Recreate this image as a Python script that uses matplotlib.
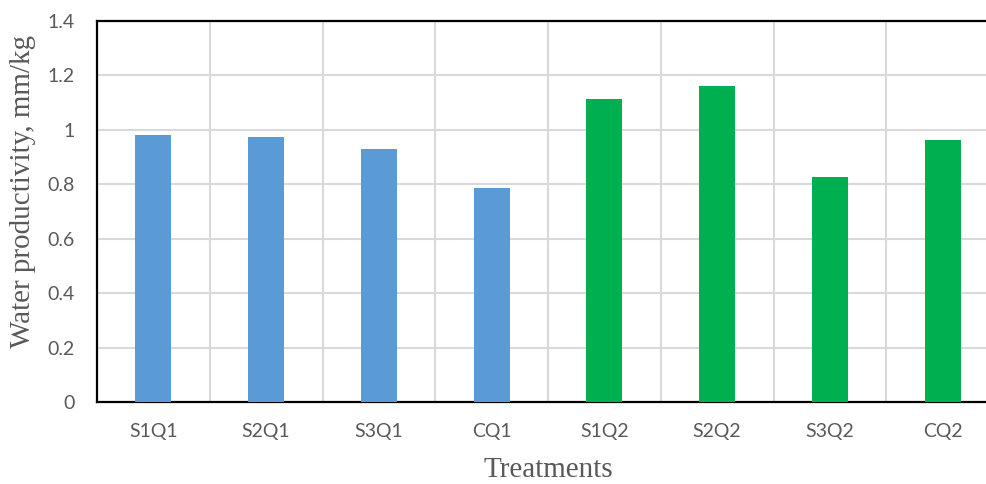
import matplotlib
matplotlib.use("Agg")
import matplotlib.pyplot as plt
import numpy as np

# Water productivity per treatment
treatments = ["S1Q1", "S2Q1", "S3Q1", "CQ1", "S1Q2", "S2Q2", "S3Q2", "CQ2"]
productivity = [0.98, 0.973, 0.93, 0.785, 1.113, 1.161, 0.827, 0.963]
bar_colors = ["#5B9BD5"] * 4 + ["#00B050"] * 4
y_ticks = [0, 0.2, 0.4, 0.6, 0.8, 1, 1.2, 1.4]
y_tick_labels = ["0", "0.2", "0.4", "0.6", "0.8", "1", "1.2", "1.4"]

W, H = 987, 484
fig = plt.figure(figsize=(W / 100, H / 100), dpi=100)
left, right, top, bottom = 97, 999, 21, 402
ax = fig.add_axes([left / W, 1 - bottom / H, (right - left) / W, (bottom - top) / H])

x = np.arange(len(treatments))
ax.bar(x, productivity, width=0.32, color=bar_colors, zorder=3)

ax.set_xlim(-0.5, len(treatments) - 0.5)
ax.set_ylim(0, 1.4)

tick_font = {"family": "Lato", "size": 14, "color": "#595959"}
ax.set_yticks(y_ticks)
ax.set_yticklabels(y_tick_labels, **tick_font)
ax.set_xticks(x)
ax.set_xticklabels(treatments, **tick_font)
ax.tick_params(axis="y", length=0, pad=16)
ax.tick_params(axis="x", length=0, pad=15)

# category separators and horizontal grid
ax.set_xticks(np.arange(len(treatments) + 1) - 0.5, minor=True)
ax.tick_params(axis="x", which="minor", length=0)
ax.grid(axis="y", which="major", color="#D9D9D9", linewidth=1.5, zorder=0)
ax.grid(axis="x", which="minor", color="#D9D9D9", linewidth=1.5, zorder=0)

for side in ["left", "top", "bottom"]:
    ax.spines[side].set_color("black")
    ax.spines[side].set_linewidth(1.6)
ax.spines["right"].set_visible(False)

label_font = {"family": "Liberation Serif", "size": 21, "color": "#595959"}
ax.set_ylabel("Water productivity, mm/kg", **label_font)
ax.yaxis.set_label_coords((23 - left) / (right - left), (bottom - 191) / (bottom - top))
ax.yaxis.label.set_verticalalignment("center")
ax.set_xlabel("Treatments", **label_font)
ax.xaxis.set_label_coords(0.5, (bottom - 470) / (bottom - top))
ax.xaxis.label.set_verticalalignment("center")

fig.savefig("out.png", dpi=100)
